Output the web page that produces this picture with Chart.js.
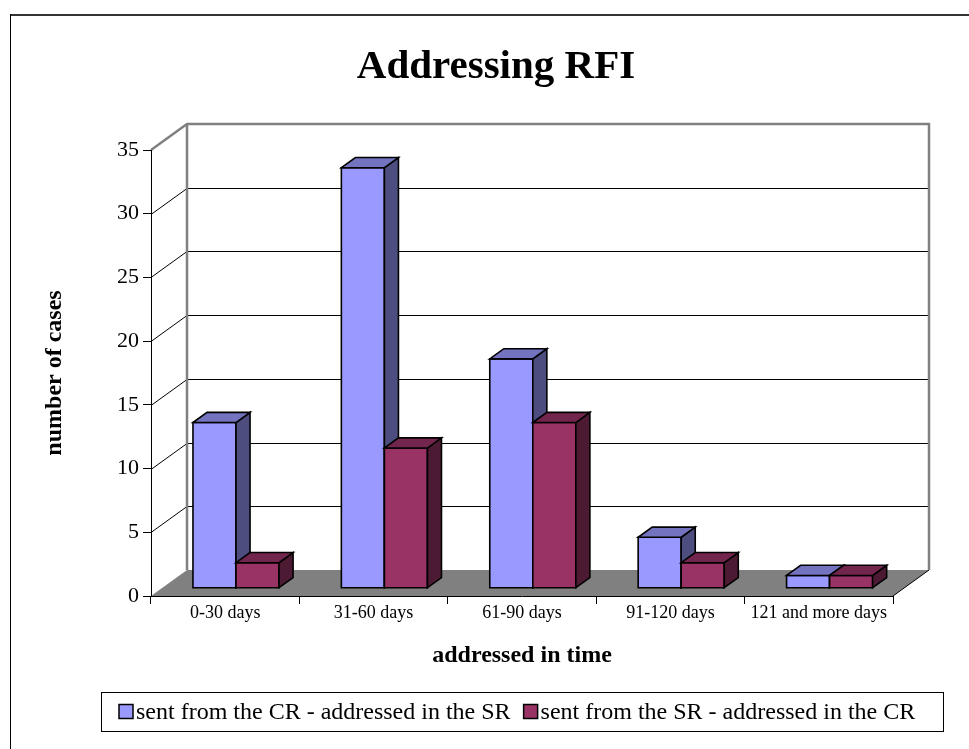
<!DOCTYPE html>
<html>
<head>
<meta charset="utf-8">
<script src="https://cdn.jsdelivr.net/npm/chart.js@4.4.1/dist/chart.umd.min.js"></script>
<style>
  html, body { margin: 0; padding: 0; background: #fff; }
  canvas { display: block; }
</style>
</head>
<body>
<canvas id="chart" width="969" height="749"></canvas>
<script>
const SERIF = "'Liberation Serif', 'Times New Roman', serif";

// ── Data ──────────────────────────────────────────────
const categories = ['0-30 days', '31-60 days', '61-90 days', '91-120 days', '121 and more days'];
const seriesLabels = ['sent from the CR - addressed in the SR', 'sent from the SR - addressed in the CR'];
const crToSr = [13, 33, 18, 4, 1];
const srToCr = [2, 11, 13, 2, 1];

// front / side / top shades, like the old Excel 3D column
const faceColors = [
  { front: '#9999FF', side: '#4D4D80', top: '#7373BF' },
  { front: '#993366', side: '#4D1A33', top: '#73264D' },
];

// depth of the floor / walls, and where the bars sit in that depth
const DEPTH = { dx: 36, dy: -26 };
const BAR_SHIFT = 0.3;
const BAR_DEPTH = 0.39;

function poly(ctx, pts, fill) {
  ctx.beginPath();
  ctx.moveTo(pts[0][0], pts[0][1]);
  for (let i = 1; i < pts.length; i++) ctx.lineTo(pts[i][0], pts[i][1]);
  ctx.closePath();
  ctx.fillStyle = fill;
  ctx.fill();
  ctx.stroke();
}

// ── Walls, floor and back gridlines ───────────────────
const wallsPlugin = {
  id: 'walls',
  beforeDraw(chart) {
    const { ctx, scales: { x, y } } = chart;
    const L = x.left, R = x.right;
    const B = y.getPixelForValue(0), T = y.getPixelForValue(y.max);
    const { dx, dy } = DEPTH;
    ctx.save();
    ctx.fillStyle = '#fff';
    ctx.fillRect(0, 0, chart.width, chart.height);

    ctx.fillStyle = '#808080';
    ctx.beginPath();
    ctx.moveTo(L, B); ctx.lineTo(R, B); ctx.lineTo(R + dx, B + dy); ctx.lineTo(L + dx, B + dy);
    ctx.closePath();
    ctx.fill();

    ctx.strokeStyle = '#000';
    ctx.lineWidth = 1;
    y.ticks.forEach(t => {
      if (t.value <= y.min || t.value >= y.max) return;
      const py = Math.round(y.getPixelForValue(t.value)) + 0.5;
      ctx.beginPath();
      ctx.moveTo(L, py);
      ctx.lineTo(L + dx, py + dy);
      ctx.lineTo(R + dx, py + dy);
      ctx.stroke();
    });
    ctx.beginPath();
    ctx.moveTo(R, B); ctx.lineTo(R + dx, B + dy);
    ctx.stroke();

    ctx.strokeStyle = '#808080';
    ctx.lineWidth = 2.5;
    ctx.beginPath();
    ctx.moveTo(L, T); ctx.lineTo(L + dx, T + dy); ctx.lineTo(R + dx, T + dy); ctx.lineTo(R + dx, B + dy);
    ctx.moveTo(L + dx, T + dy); ctx.lineTo(L + dx, B + dy);
    ctx.stroke();
    ctx.restore();
  }
};

// ── 3D columns from the bar elements ──────────────────
const bars3d = {
  id: 'bars3d',
  beforeDatasetsDraw(chart) {
    const ctx = chart.ctx;
    const sx = DEPTH.dx * BAR_SHIFT, sy = DEPTH.dy * BAR_SHIFT;
    const bx = DEPTH.dx * BAR_DEPTH, by = DEPTH.dy * BAR_DEPTH;
    const metas = chart.data.datasets.map((_, i) => chart.getDatasetMeta(i));
    ctx.save();
    ctx.strokeStyle = '#000';
    ctx.lineWidth = 1.6;
    ctx.lineJoin = 'miter';
    categories.forEach((_, j) => {
      metas.forEach((meta, i) => {
        const el = meta.data[j];
        const c = faceColors[i];
        const x1 = el.x - el.width / 2 + sx, x2 = el.x + el.width / 2 + sx;
        const top = el.y + sy, bot = el.base + sy;
        poly(ctx, [[x1, bot], [x2, bot], [x2, top], [x1, top]], c.front);
        poly(ctx, [[x2, bot], [x2 + bx, bot + by], [x2 + bx, top + by], [x2, top]], c.side);
        poly(ctx, [[x1, top], [x2, top], [x2 + bx, top + by], [x1 + bx, top + by]], c.top);
      });
    });
    ctx.restore();
    return false;
  }
};

// ── Title, legend box and outer frame ─────────────────
const decor = {
  id: 'decor',
  afterDraw(chart) {
    const ctx = chart.ctx;
    ctx.save();
    ctx.fillStyle = '#333';
    ctx.fillRect(10, 14, chart.width - 10, 2);
    ctx.fillStyle = '#000';
    ctx.fillRect(10, 14, 1, chart.height - 14);

    ctx.fillStyle = '#000';
    ctx.font = 'bold 41px ' + SERIF;
    ctx.textAlign = 'center';
    ctx.textBaseline = 'alphabetic';
    ctx.fillText('Addressing RFI', 496, 78);

    // legend, centred under the plot
    const lw = 842, lh = 39, box = 14;
    const lx = Math.round((chart.chartArea.left + chart.chartArea.right) / 2 - lw / 2);
    const ly = 692;
    ctx.font = '24px ' + SERIF;
    ctx.textAlign = 'left';
    ctx.textBaseline = 'middle';
    let cx = lx + 18;
    const cy = ly + lh / 2;
    ctx.lineWidth = 1.5;
    ctx.strokeStyle = '#000';
    chart.data.datasets.forEach((ds, i) => {
      ctx.fillStyle = faceColors[i].front;
      ctx.fillRect(cx, cy - box / 2, box, box);
      ctx.strokeRect(cx, cy - box / 2, box, box);
      cx += box + 3;
      ctx.fillStyle = '#000';
      ctx.fillText(ds.label, cx, cy + 1);
      cx += ctx.measureText(ds.label).width + 13;
    });
    ctx.lineWidth = 1;
    ctx.strokeRect(lx + 0.5, ly + 0.5, lw, lh);
    ctx.restore();
  }
};

new Chart(document.getElementById('chart'), {
  type: 'bar',
  data: {
    labels: categories,
    datasets: [
      { label: seriesLabels[0], data: crToSr, backgroundColor: faceColors[0].front },
      { label: seriesLabels[1], data: srToCr, backgroundColor: faceColors[1].front },
    ]
  },
  options: {
    responsive: false,
    animation: false,
    devicePixelRatio: 1,
    categoryPercentage: 0.58,
    barPercentage: 1,
    layout: { padding: { left: 0, top: 150, right: 76, bottom: 73 } },
    plugins: {
      legend: { display: false },
      title: { display: false },
      tooltip: { enabled: false },
    },
    scales: {
      x: {
        grid: { offset: true, drawOnChartArea: false, tickLength: 8, color: '#000' },
        border: { color: '#000' },
        ticks: { color: '#000', font: { family: SERIF, size: 18, lineHeight: 1 }, padding: 0 },
        title: {
          display: true, text: 'addressed in time', color: '#000',
          font: { family: SERIF, size: 24, weight: 'bold' }, padding: { top: 0, bottom: 6 }
        },
        afterFit: s => { s.height = 80; }
      },
      y: {
        min: 0,
        max: 35,
        ticks: { stepSize: 5, color: '#000', font: { family: SERIF, size: 22 }, padding: 4 },
        grid: { drawOnChartArea: false, tickLength: 8, color: '#000' },
        border: { color: '#000' },
        title: {
          display: true, text: 'number of cases', color: '#000',
          font: { family: SERIF, size: 24, weight: 'bold' }, padding: { top: 40, bottom: 0 }
        },
        afterFit: s => { s.width = 151; }
      }
    }
  },
  plugins: [wallsPlugin, bars3d, decor]
});
</script>
</body>
</html>
